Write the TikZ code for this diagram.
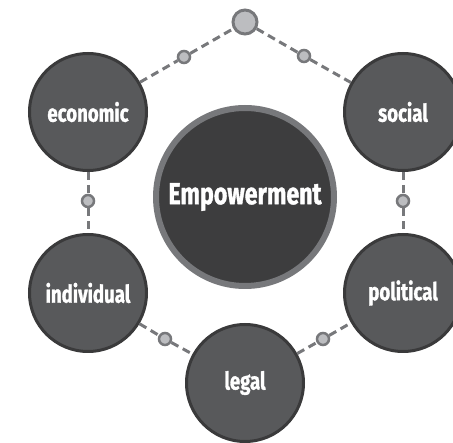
\documentclass[tikz,border=0pt]{standalone}
\usepackage{fontspec}
\setmainfont{Fira Sans}[FakeStretch=0.76, BoldFeatures={FakeBold=1.2}]
\definecolor{circfill}{HTML}{58595B}
\definecolor{circline}{HTML}{3A3A3B}
\definecolor{hubfill}{HTML}{3D3D3E}
\definecolor{hubring}{HTML}{77787B}
\definecolor{dotfill}{HTML}{BCBDC0}
\definecolor{dashgray}{HTML}{77787B}
\begin{document}
\begin{tikzpicture}[
    x=1pt, y=1pt,
    areanode/.style={circle, fill=circfill, draw=circline, line width=3pt, minimum size=117pt, inner sep=0pt,
      text=white, font=\bfseries\fontsize{24.5}{26}\selectfont},
    hubnode/.style={circle, fill=hubfill, draw=hubring, line width=6pt, minimum size=178pt, inner sep=0pt,
      text=white, font=\bfseries\fontsize{30.5}{33}\selectfont},
    topnode/.style={circle, fill=dotfill, draw=hubring, line width=3pt, minimum size=24pt, inner sep=0pt},
    dotnode/.style={circle, fill=dotfill, draw=hubring, line width=2.5pt, minimum size=12pt, inner sep=0pt},
    link/.style={draw=dashgray, line width=3pt, dash pattern=on 8pt off 5pt}
  ]
  \useasboundingbox (0,0) rectangle (453,-443);

  %Nodes
  \node[hubnode] at (245,-197) (hub) {Empowerment};
  \node[topnode] at (245,-22) (top) {};
  \node[areanode] at (88,-112) (eco) {economic};
  \node[areanode] at (403,-112) (soc) {social};
  \node[areanode] at (88,-293) (ind) {individual};
  \node[areanode] at (403,-293) (pol) {political};
  \node[areanode] at (245,-383) (leg) {legal};

  %Dots
  \node[dotnode] at (184,-57) (d1) {};
  \node[dotnode] at (304,-56) (d2) {};
  \node[dotnode] at (88,-201) (d3) {};
  \node[dotnode] at (403,-201) (d4) {};
  \node[dotnode] at (165,-339) (d5) {};
  \node[dotnode] at (323,-339) (d6) {};

  %Lines
  \draw[link] (eco) -- (d1) -- (top);
  \draw[link] (top) -- (d2) -- (soc);
  \draw[link] (eco) -- (d3) -- (ind);
  \draw[link] (soc) -- (d4) -- (pol);
  \draw[link] (ind) -- (d5) -- (leg);
  \draw[link] (leg) -- (d6) -- (pol);

\end{tikzpicture}
\end{document}
